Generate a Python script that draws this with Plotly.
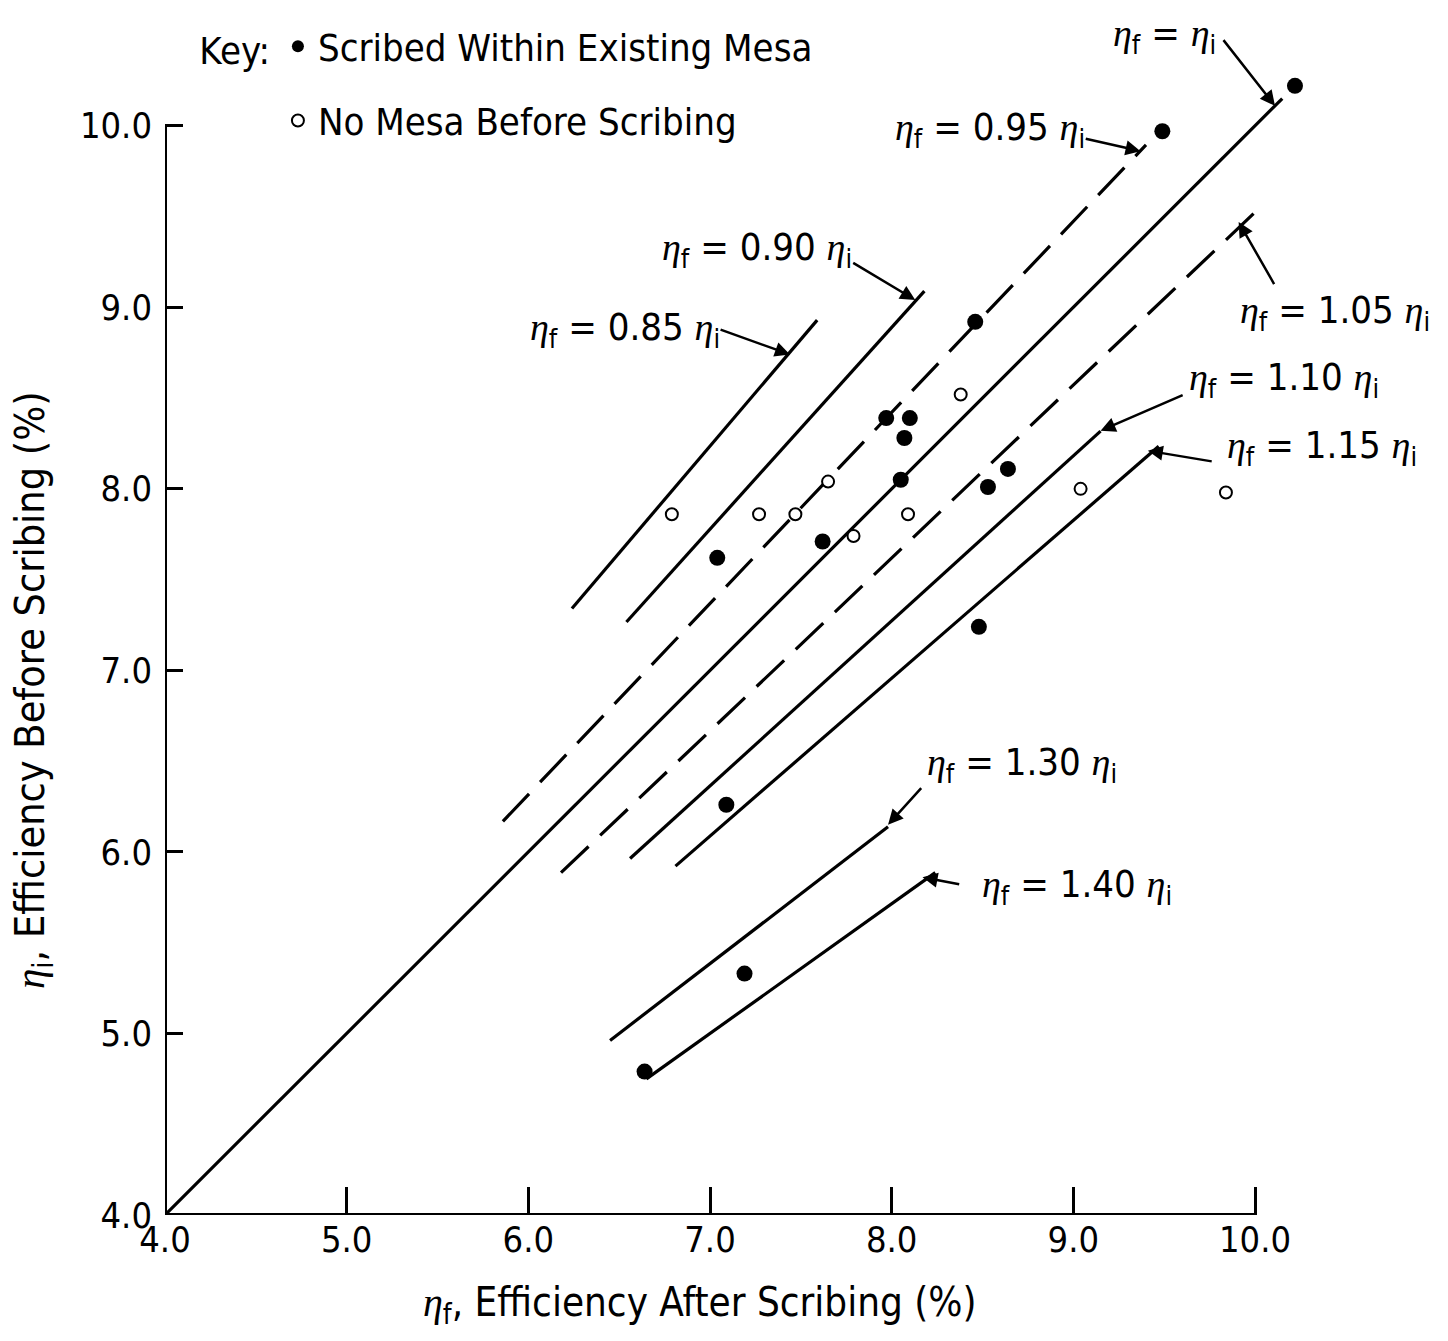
import plotly.graph_objects as go

# ---------------- data ----------------
# filled dots: scribed within existing mesa  (x = eta_f, y = eta_i)
mesa_x = [10.22, 9.49, 8.46, 7.97, 8.10, 8.07, 8.05, 8.64, 8.53, 7.62, 7.04, 8.48, 7.09, 7.19, 6.64]
mesa_y = [10.22, 9.97, 8.92, 8.39, 8.39, 8.28, 8.05, 8.11, 8.01, 7.71, 7.62, 7.24, 6.26, 5.33, 4.79]
# open circles: no mesa before scribing
nomesa_x = [6.79, 7.27, 7.47, 7.65, 7.79, 8.09, 8.38, 9.04, 9.84]
nomesa_y = [7.86, 7.86, 7.86, 8.04, 7.74, 7.86, 8.52, 8.00, 7.98]

# reference lines eta_f = k * eta_i  ->  eta_i = eta_f / k
ratios      = [1.00, 0.95, 0.90, 0.85, 1.05, 1.10, 1.15, 1.30, 1.40]
ratio_texts = ["", "0.95", "0.90", "0.85", "1.05", "1.10", "1.15", "1.30", "1.40"]
seg_x0      = [4.00, 5.86, 6.54, 6.24, 6.18, 6.56, 6.81, 6.45, 6.65]
seg_x1      = [10.15, 9.40, 8.18, 7.59, 10.04, 9.15, 9.47, 7.98, 8.24]
dashed      = [False, True, False, False, True, False, False, False, False]

# label centres and arrow (tail -> head) in data units
label_x = [9.50, 8.54, 7.26, 6.53, 10.44, 10.16, 10.37, 8.72, 9.02]
label_y = [10.50, 9.98, 9.32, 8.88, 8.97, 8.60, 8.23, 6.48, 5.81]
tail_x  = [9.82, 9.06, 7.78, 7.05, 10.11, 9.61, 9.77, 8.17, 8.38]
tail_y  = [10.48, 9.93, 9.25, 8.88, 9.12, 8.52, 8.15, 6.36, 5.82]
head_x  = [10.11, 9.37, 8.13, 7.44, 9.91, 9.15, 9.41, 7.98, 8.17]
head_y  = [10.11, 9.86, 9.04, 8.74, 9.47, 8.32, 8.21, 6.15, 5.86]

tick_vals = [4, 5, 6, 7, 8, 9, 10]
tick_text = ["4.0", "5.0", "6.0", "7.0", "8.0", "9.0", "10.0"]

SANS = "DejaVu Sans Condensed, DejaVu Sans, sans-serif"
ETA = '<span style="font-family:Liberation Serif"><i>η</i></span>'

fig = go.Figure()

for k, x0, x1, d in zip(ratios, seg_x0, seg_x1, dashed):
    fig.add_trace(go.Scatter(
        x=[x0, x1], y=[x0 / k, x1 / k], mode="lines",
        line=dict(color="black", width=3.2, dash="38px,16px" if d else "solid"),
        showlegend=False, hoverinfo="skip"))

fig.add_trace(go.Scatter(
    x=mesa_x, y=mesa_y, mode="markers", name="Scribed Within Existing Mesa",
    marker=dict(color="black", size=16, symbol="circle"),
    cliponaxis=False, legendgroup="a"))
fig.add_trace(go.Scatter(
    x=nomesa_x, y=nomesa_y, mode="markers", name="No Mesa Before Scribing",
    marker=dict(color="white", size=12, symbol="circle", line=dict(color="black", width=2)),
    cliponaxis=False, legendgroup="b"))

anns = []
for k, t, lx, ly, tx, ty, hx, hy in zip(ratios, ratio_texts, label_x, label_y, tail_x, tail_y, head_x, head_y):
    if t == "":
        txt = f"{ETA}<sub>f</sub> = {ETA}<sub>i</sub>"
    else:
        txt = f"{ETA}<sub>f</sub> = {t} {ETA}<sub>i</sub>"
    anns.append(dict(x=lx, y=ly, xref="x", yref="y", text=txt, showarrow=False,
                     font=dict(family=SANS, size=38, color="black"),
                     xanchor="center", yanchor="middle"))
    anns.append(dict(x=hx, y=hy, ax=tx, ay=ty, xref="x", yref="y", axref="x", ayref="y",
                     text="", showarrow=True, arrowhead=2, arrowsize=1.2,
                     arrowwidth=2.5, arrowcolor="black"))

anns.append(dict(x=0.446, y=-0.076, xref="paper", yref="paper", showarrow=False,
                 text=f"{ETA}<sub>f</sub>, Efficiency After Scribing (%)",
                 font=dict(family=SANS, size=40, color="black"),
                 xanchor="center", yanchor="middle"))
anns.append(dict(x=-0.11, y=0.445, xref="paper", yref="paper", showarrow=False,
                 text=f"{ETA}<sub>i</sub>, Efficiency Before Scribing (%)", textangle=-90,
                 font=dict(family=SANS, size=41, color="black"),
                 xanchor="center", yanchor="middle"))

fig.update_layout(
    width=1448, height=1341,
    margin=dict(l=165, r=84, t=35, b=126),
    paper_bgcolor="white", plot_bgcolor="white",
    font=dict(family=SANS, size=38, color="black"),
    annotations=anns,
    showlegend=True,
    legend=dict(x=0.027, y=1.017, xanchor="left", yanchor="top",
                title=dict(text="Key:", side="left", font=dict(family=SANS, size=38)),
                font=dict(family=SANS, size=38), bgcolor="rgba(0,0,0,0)",
                itemsizing="constant", tracegroupgap=22),
    shapes=[
        dict(type="line", xref="x", yref="y", x0=4, y0=4, x1=10, y1=4,
             line=dict(color="black", width=4)),
        dict(type="line", xref="x", yref="y", x0=4, y0=4, x1=4, y1=10,
             line=dict(color="black", width=4)),
    ],
)
fig.update_xaxes(range=[4, 10.6], tickvals=tick_vals, ticktext=tick_text,
                 ticks="inside", ticklen=28, tickwidth=3, tickcolor="black",
                 showgrid=False, zeroline=False, showline=False,
                 tickfont=dict(family=SANS, size=36, color="black"))
fig.update_yaxes(range=[4, 10.5], tickvals=tick_vals, ticktext=tick_text,
                 ticks="inside", ticklen=18, tickwidth=3, tickcolor="black",
                 showgrid=False, zeroline=False, showline=False,
                 ticklabelstandoff=12,
                 tickfont=dict(family=SANS, size=36, color="black"))

fig.write_html("out.html")
